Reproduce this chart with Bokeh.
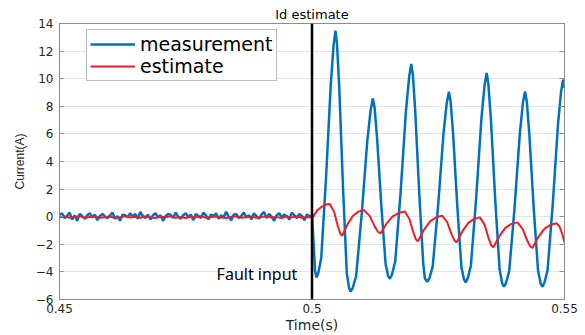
import numpy as np
from bokeh.plotting import figure
from bokeh.models import Range1d, FixedTicker, LinearAxis, Span, Label, Legend, LegendItem
from bokeh.embed import file_html
from bokeh.resources import INLINE

# ---------------- data ----------------
x_ticks = [0.45, 0.5, 0.55]
x_tick_labels = ["0.45", "0.5", "0.55"]
y_ticks = [-6, -4, -2, 0, 2, 4, 6, 8, 10, 12, 14]

# pre-fault samples (0.45 .. 0.50 s)
t_pre_blue = np.linspace(0.45, 0.5, 101)
blue_pre = [
    0.15, 0.25, -0.10, 0.05, 0.30, -0.20, 0.10, -0.30, 0.20, 0.05,
    -0.15, 0.10, 0.25, -0.05, 0.15, -0.25, 0.05, 0.20, 0.00, -0.10,
    0.10, 0.30, -0.15, 0.05, -0.30, 0.15, 0.10, -0.05, 0.25, 0.00,
    0.20, -0.15, 0.35, 0.05, -0.10, 0.15, -0.20, 0.10, 0.25, -0.05,
    0.10, -0.30, 0.05, 0.20, 0.15, -0.10, 0.30, 0.00, -0.15, 0.10,
    0.25, -0.05, 0.15, -0.25, 0.20, 0.05, -0.10, 0.30, 0.10, -0.20,
    0.15, 0.05, 0.25, -0.15, 0.10, -0.05, 0.35, 0.00, -0.25, 0.15,
    0.20, -0.10, 0.05, 0.30, -0.05, 0.10, -0.20, 0.25, 0.05, -0.15,
    0.15, 0.35, -0.10, 0.20, 0.00, -0.30, 0.10, 0.25, -0.05, 0.15,
    0.05, -0.20, 0.30, 0.10, -0.10, 0.20, 0.05, -0.25, 0.15, 0.05,
    0.05,
]
t_pre_red = np.linspace(0.45, 0.5, 51)
red_pre = [
    -0.05, 0.02, -0.08, -0.03, 0.05, -0.10, -0.02, 0.03, -0.07, -0.04,
    0.01, -0.09, -0.03, 0.04, -0.06, -0.01, -0.08, 0.02, -0.05, -0.10,
    0.00, -0.04, 0.03, -0.07, -0.02, -0.09, 0.01, -0.05, 0.04, -0.08,
    -0.03, 0.02, -0.06, -0.10, -0.01, 0.03, -0.07, -0.04, 0.02, -0.08,
    -0.02, 0.04, -0.06, -0.03, -0.09, 0.01, -0.05, 0.03, -0.07, -0.02,
    -0.05,
]

# post-fault measurement
t_post_blue = [
    0.50030, 0.50060, 0.50089,
    0.50127, 0.50183, 0.50277, 0.50371, 0.50427, 0.50465,
    0.50495, 0.50540, 0.50614, 0.50689, 0.50733, 0.50763,
    0.50807, 0.50874, 0.50984, 0.51095, 0.51161, 0.51205,
    0.51239, 0.51289, 0.51374, 0.51458, 0.51508, 0.51542,
    0.51584, 0.51648, 0.51754, 0.51860, 0.51924, 0.51966,
    0.51998, 0.52045, 0.52125, 0.52204, 0.52236, 0.52283,
    0.52326, 0.52390, 0.52497, 0.52604, 0.52668, 0.52711,
    0.52744, 0.52794, 0.52877, 0.52959, 0.53009, 0.53042,
    0.53084, 0.53146, 0.53250, 0.53354, 0.53416, 0.53458,
    0.53492, 0.53544, 0.53630, 0.53715, 0.53767, 0.53801,
    0.53843, 0.53905, 0.54010, 0.54114, 0.54176, 0.54218,
    0.54253, 0.54304, 0.54391, 0.54477, 0.54529, 0.54563,
    0.54604, 0.54665, 0.54768, 0.54870, 0.54931, 0.54972,
    0.55000,
]
blue_post = [
    -1.8, -3.9, -4.40,
    -4.04, -2.97, 2.75, 9.55, 12.41, 13.48,
    12.53, 9.32, 2.13, -4.11, -5.15, -5.43,
    -5.15, -4.31, 0.17, 5.49, 7.73, 8.57,
    7.92, 5.69, 0.73, -3.45, -4.30, -4.50,
    -4.19, -3.25, 1.73, 7.64, 10.14, 11.07,
    10.28, 7.60, 1.60, -3.46, -4.48, -4.72,
    -4.44, -3.62, 0.79, 6.03, 8.23, 9.06,
    8.37, 6.02, 0.77, -3.65, -4.55, -4.76,
    -4.46, -3.55, 1.31, 7.07, 9.50, 10.41,
    9.64, 7.00, 1.12, -3.83, -4.84, -5.07,
    -4.79, -3.94, 0.59, 5.97, 8.23, 9.08,
    8.37, 5.97, 0.59, -3.94, -4.86, -5.07,
    -4.77, -3.87, 0.93, 6.63, 9.03, 9.93,
    9.35,
]

# post-fault estimate
t_post_red = [
    0.50015, 0.50100, 0.50185, 0.50270, 0.50352, 0.50438, 0.50512, 0.50561,
    0.50598, 0.50705, 0.50812, 0.50919, 0.51026, 0.51142, 0.51241, 0.51307,
    0.51357, 0.51478, 0.51598, 0.51719, 0.51839, 0.51929, 0.52007, 0.52058,
    0.52097, 0.52218, 0.52339, 0.52459, 0.52580, 0.52679, 0.52765, 0.52821,
    0.52864, 0.52980, 0.53095, 0.53211, 0.53326, 0.53419, 0.53498, 0.53551,
    0.53591, 0.53710, 0.53829, 0.53948, 0.54067, 0.54171, 0.54260, 0.54319,
    0.54364, 0.54485, 0.54605, 0.54726, 0.54846, 0.54900, 0.54950, 0.55000,
]
red_post = [
    -0.05, 0.45, 0.70, 0.88, 0.92, 0.35, -0.69, -1.22,
    -1.38, -0.54, 0.07, 0.37, 0.48, 0.06, -0.70, -1.09,
    -1.21, -0.49, 0.03, 0.28, 0.38, -0.16, -1.14, -1.64,
    -1.79, -0.95, -0.34, -0.04, 0.07, -0.41, -1.28, -1.72,
    -1.86, -1.05, -0.45, -0.16, -0.05, -0.59, -1.57, -2.07,
    -2.22, -1.41, -0.81, -0.52, -0.41, -0.88, -1.71, -2.14,
    -2.27, -1.46, -0.87, -0.59, -0.48, -0.70, -1.20, -1.86,
]

fault_time = 0.5

blue_t = list(t_pre_blue) + t_post_blue
blue_v = blue_pre + blue_post
red_t = list(t_pre_red) + t_post_red
red_v = red_pre + red_post

# ---------------- figure ----------------
GRAY = "#8c8c8c"
TXT = "#262626"

p = figure(width=585, height=335, x_range=Range1d(0.45, 0.55), y_range=Range1d(-6, 14),
           output_backend="svg", toolbar_location=None,
           title="Id estimate",
           min_border_left=59, min_border_right=21, min_border_top=23, min_border_bottom=36,
           background_fill_color="white", border_fill_color="white")
p.title.align = "center"
p.title.text_font = "DejaVu Sans"
p.title.text_font_size = "13px"
p.title.text_font_style = "normal"
p.title.text_color = "black"
p.title.standoff = 3

p.outline_line_color = GRAY
p.outline_line_width = 1

for ax in (p.xaxis[0], p.yaxis[0]):
    ax.axis_line_color = GRAY
    ax.major_tick_line_color = GRAY
    ax.major_tick_in = 4
    ax.major_tick_out = 0
    ax.minor_tick_line_color = None
    ax.major_label_text_font = "DejaVu Sans"
    ax.major_label_text_font_size = "12px"
    ax.major_label_text_color = TXT

p.xaxis.ticker = FixedTicker(ticks=x_ticks)
p.xaxis.major_label_overrides = {t: l for t, l in zip(x_ticks, x_tick_labels)}
p.xaxis.major_label_standoff = 4
p.xaxis.axis_label = "Time(s)"
p.xaxis.axis_label_standoff = 1
p.xaxis.axis_label_text_font = "DejaVu Sans"
p.xaxis.axis_label_text_font_size = "14px"
p.xaxis.axis_label_text_font_style = "normal"
p.xaxis.axis_label_text_color = TXT

p.yaxis.ticker = FixedTicker(ticks=y_ticks)
p.yaxis.major_label_standoff = 6
p.yaxis.axis_label = "Current(A)"
p.yaxis.axis_label_standoff = 6
p.yaxis.axis_label_text_font = "Liberation Sans"
p.yaxis.axis_label_text_font_size = "12px"
p.yaxis.axis_label_text_font_style = "normal"
p.yaxis.axis_label_text_color = TXT

p.xgrid.visible = False
p.ygrid.ticker = FixedTicker(ticks=y_ticks)
p.ygrid.grid_line_color = "#e4e4e4"
p.ygrid.grid_line_width = 1

right = LinearAxis(ticker=FixedTicker(ticks=y_ticks),
                   major_label_overrides={t: "" for t in y_ticks},
                   major_tick_in=5, major_tick_out=0, axis_line_color=GRAY,
                   major_tick_line_color=GRAY, minor_tick_line_color=None)
p.add_layout(right, "right")

r_meas = p.line(blue_t, blue_v, line_color="#0072BD", line_width=2.5)
r_est = p.line(red_t, red_v, line_color="#ee1c25", line_width=2)

p.add_layout(Span(location=fault_time, dimension="height", line_color="black", line_width=2.5))

legend = Legend(items=[LegendItem(label="measurement", renderers=[r_meas]),
                       LegendItem(label="estimate", renderers=[r_est])],
                location=(27, 218), margin=0, padding=3, spacing=0,
                glyph_width=45, glyph_height=16, label_height=16, label_standoff=5,
                label_text_font="DejaVu Sans", label_text_font_size="19px",
                label_text_line_height=1.0,
                label_text_color="black", border_line_color="#7a7a7a", border_line_width=1,
                background_fill_color="white", background_fill_alpha=1)
p.add_layout(legend, "center")

p.add_layout(Label(x=0.4971, y=-4.13, text="Fault input", text_align="right", text_baseline="middle",
                   text_font="Noto Sans", text_font_size="16px", text_color="black"))

open("out.html", "w").write(file_html(p, INLINE))
